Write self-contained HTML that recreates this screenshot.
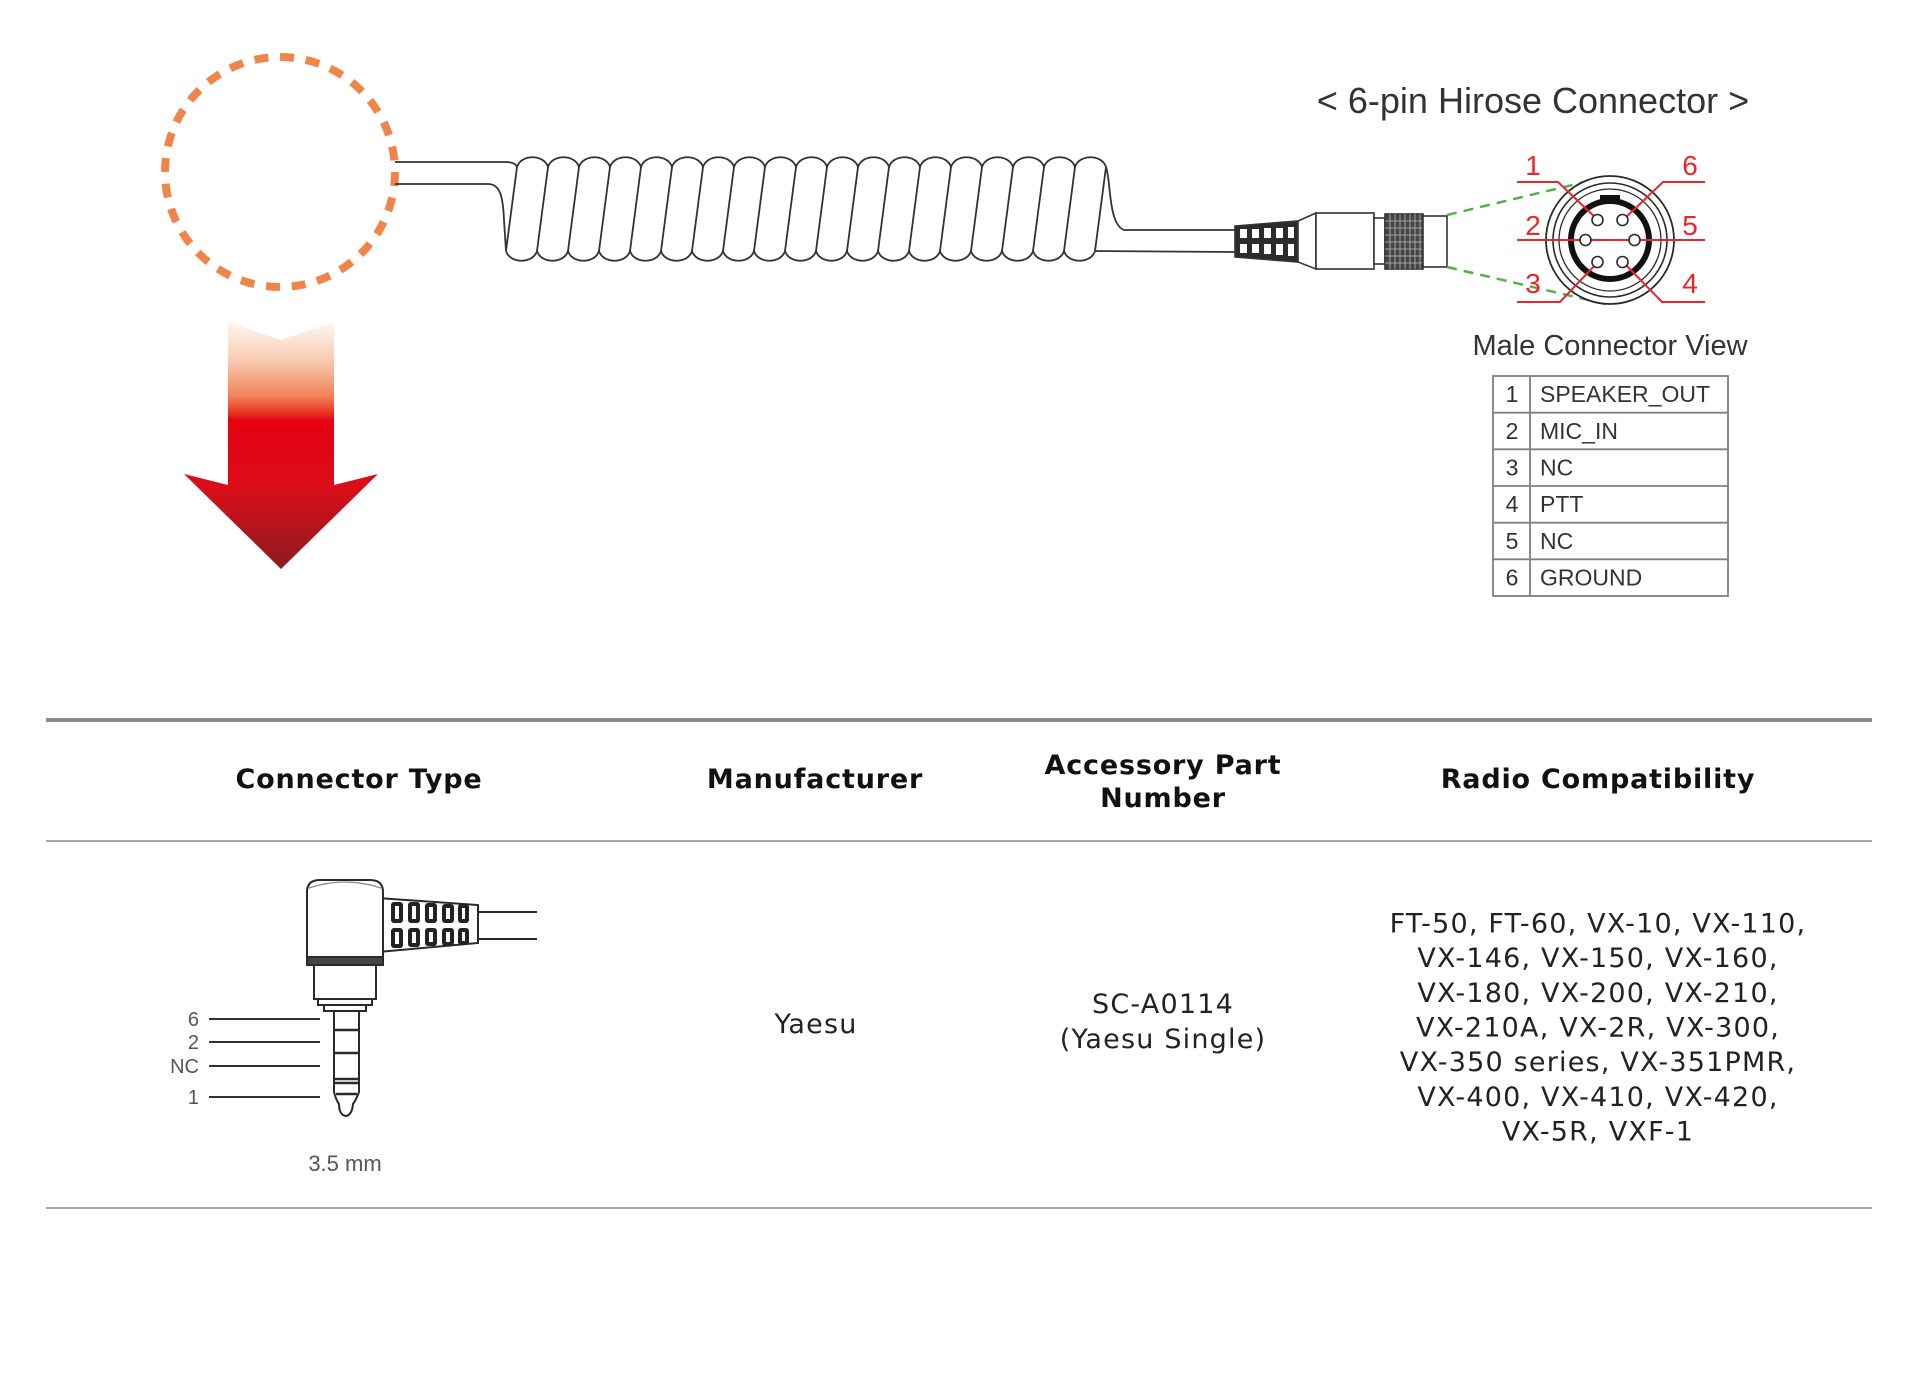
<!DOCTYPE html>
<html>
<head>
<meta charset="utf-8">
<style>
html,body{margin:0;padding:0;background:#fff;}
svg{display:block;}
.hd{font-family:"DejaVu Sans","Liberation Sans",sans-serif;font-weight:bold;font-size:27px;letter-spacing:0.8px;fill:#111;}
.bd{font-family:"DejaVu Sans","Liberation Sans",sans-serif;font-size:27px;letter-spacing:1.2px;fill:#222;}
.ls{font-family:"Liberation Sans",Arial,sans-serif;}
</style>
</head>
<body>
<svg width="1920" height="1392" viewBox="0 0 1920 1392" xmlns="http://www.w3.org/2000/svg">
<defs>
<linearGradient id="ag" gradientUnits="userSpaceOnUse" x1="0" y1="322" x2="0" y2="569">
<stop offset="0" stop-color="#fff6f1"/>
<stop offset="0.15" stop-color="#f8cdb5"/>
<stop offset="0.30" stop-color="#f08358"/>
<stop offset="0.37" stop-color="#e8301f"/>
<stop offset="0.40" stop-color="#e60012"/>
<stop offset="0.66" stop-color="#db0d18"/>
<stop offset="1" stop-color="#8e1b20"/>
</linearGradient>
</defs>
<rect width="1920" height="1392" fill="#fff"/>

<!-- orange dashed circle -->
<circle cx="280" cy="172" r="115" fill="none" stroke="#ef8548" stroke-width="8" stroke-dasharray="14 11.8"/>

<!-- arrow -->
<path d="M228,322 L281,340 L334,322 L334,485 L378,474 L281,569 L184,474 L228,485 Z" fill="url(#ag)"/>

<!-- cable from circle -->
<g fill="none" stroke="#333" stroke-width="1.8">
<path d="M395,162 L505,162 C512,162 516,164 517,167"/>
<path d="M395,184 L488,184 C500,184 503,196 504,220 L506,251"/>
<!-- coil top -->
<path d="M517,167 C521,154 544,154 548,167 C552,154 575,154 579,167 C583,154 606,154 610,167 C614,154 637,154 641,167 C645,154 668,154 672,167 C676,154 699,154 703,167 C707,154 730,154 734,167 C738,154 761,154 765,167 C769,154 792,154 796,167 C800,154 823,154 827,167 C831,154 854,154 858,167 C862,154 885,154 889,167 C893,154 916,154 920,167 C924,154 947,154 951,167 C955,154 978,154 982,167 C986,154 1009,154 1013,167 C1017,154 1040,154 1044,167 C1048,154 1071,154 1075,167 C1079,154 1102,154 1106,167"/>
<!-- coil bottom -->
<path d="M506,251 C510,264 533,264 537,251 C541,264 564,264 568,251 C572,264 595,264 599,251 C603,264 626,264 630,251 C634,264 657,264 661,251 C665,264 688,264 692,251 C696,264 719,264 723,251 C727,264 750,264 754,251 C758,264 781,264 785,251 C789,264 812,264 816,251 C820,264 843,264 847,251 C851,264 874,264 878,251 C882,264 905,264 909,251 C913,264 936,264 940,251 C944,264 967,264 971,251 C975,264 998,264 1002,251 C1006,264 1029,264 1033,251 C1037,264 1060,264 1064,251 C1068,264 1091,264 1095,251"/>
<!-- slants -->
<path d="M517,167 L506,251 M548,167 L537,251 M579,167 L568,251 M610,167 L599,251 M641,167 L630,251 M672,167 L661,251 M703,167 L692,251 M734,167 L723,251 M765,167 L754,251 M796,167 L785,251 M827,167 L816,251 M858,167 L847,251 M889,167 L878,251 M920,167 L909,251 M951,167 L940,251 M982,167 L971,251 M1013,167 L1002,251 M1044,167 L1033,251 M1075,167 L1064,251 M1106,167 L1095,251"/>
<!-- exit lines -->
<path d="M1106,167 C1111,180 1108,224 1124,230 L1236,230"/>
<path d="M1095,251 L1236,252"/>
</g>

<!-- Hirose plug -->
<g stroke="#333" stroke-width="1.6">
<polygon points="1235,226 1298,221 1298,262 1235,257" fill="#2b2b2b"/>
<g fill="#fff" stroke="none">
<rect x="1240" y="229" width="7" height="9"/><rect x="1252" y="229" width="7" height="9"/><rect x="1264" y="228" width="7" height="10"/><rect x="1276" y="228" width="7" height="10"/><rect x="1288" y="227" width="6" height="11"/>
<rect x="1240" y="244" width="7" height="9"/><rect x="1252" y="244" width="7" height="9"/><rect x="1264" y="244" width="7" height="10"/><rect x="1276" y="244" width="7" height="11"/><rect x="1288" y="244" width="6" height="12"/>
</g>
<polygon points="1298,221 1316,213 1316,269 1298,262" fill="#fff"/>
<rect x="1316" y="213" width="58" height="56" fill="#fff"/>
<rect x="1374" y="218" width="11" height="46" fill="#fff"/>
<rect x="1385" y="214" width="38" height="55" fill="#464646"/>
<g stroke="#bbb" stroke-width="0.8">
<path d="M1390,214V269M1395,214V269M1400,214V269M1405,214V269M1410,214V269M1415,214V269M1420,214V269"/>
<path d="M1385,221H1423M1385,228H1423M1385,235H1423M1385,242H1423M1385,249H1423M1385,256H1423M1385,263H1423"/>
</g>
<rect x="1423" y="216" width="24" height="51" fill="#fff"/>
</g>

<!-- green dashed -->
<g stroke="#55b04c" stroke-width="2.5" stroke-dasharray="10 7" fill="none">
<path d="M1447,215 L1610,176"/>
<path d="M1447,267 L1610,305"/>
</g>

<!-- connector face -->
<g fill="none" stroke="#2a2a2a">
<circle cx="1610" cy="240" r="64" stroke-width="1.8" fill="#fff"/>
<circle cx="1610" cy="240" r="57" stroke-width="1.6"/>
<circle cx="1610" cy="240" r="51" stroke-width="1.3"/>
<circle cx="1610" cy="240" r="39" stroke-width="6" stroke="#111"/>
</g>
<rect x="1600" y="195" width="20" height="8" fill="#111"/>
<g stroke="#e8262c" stroke-width="2" fill="none">
<path d="M1517,182 L1558,182 L1598,220"/>
<path d="M1705,182 L1663,182 L1623,220"/>
<path d="M1517,240 L1705,240"/>
<path d="M1517,302 L1560,302 L1598,262"/>
<path d="M1705,302 L1662,302 L1623,262"/>
</g>
<g fill="#fff" stroke="#2a2a2a" stroke-width="1.6">
<circle cx="1597.5" cy="220" r="5.5"/>
<circle cx="1622.5" cy="220" r="5.5"/>
<circle cx="1585.5" cy="240" r="5.5"/>
<circle cx="1634.5" cy="240" r="5.5"/>
<circle cx="1597.5" cy="262" r="5.5"/>
<circle cx="1622.5" cy="262" r="5.5"/>
</g>
<g class="ls" font-size="28" fill="#e8262c" text-anchor="middle">
<text x="1533" y="175">1</text>
<text x="1690" y="175">6</text>
<text x="1533" y="235">2</text>
<text x="1690" y="235">5</text>
<text x="1533" y="293">3</text>
<text x="1690" y="293">4</text>
</g>

<text class="ls" x="1533" y="113" font-size="36" fill="#333" text-anchor="middle">&lt; 6-pin Hirose Connector &gt;</text>
<text class="ls" x="1610" y="355" font-size="29" fill="#333" text-anchor="middle">Male Connector View</text>

<!-- pin table -->
<g stroke="#808080" stroke-width="1.8" fill="none">
<rect x="1493" y="376" width="235" height="220"/>
<path d="M1530,376V596"/>
<path d="M1493,412.7H1728M1493,449.3H1728M1493,486H1728M1493,522.7H1728M1493,559.3H1728"/>
</g>
<g class="ls" font-size="23" fill="#333">
<g text-anchor="middle">
<text x="1512" y="402">1</text>
<text x="1512" y="439">2</text>
<text x="1512" y="475.5">3</text>
<text x="1512" y="512">4</text>
<text x="1512" y="549">5</text>
<text x="1512" y="585.5">6</text>
</g>
<text x="1540" y="402">SPEAKER_OUT</text>
<text x="1540" y="439">MIC_IN</text>
<text x="1540" y="475.5">NC</text>
<text x="1540" y="512">PTT</text>
<text x="1540" y="549">NC</text>
<text x="1540" y="585.5">GROUND</text>
</g>

<!-- table lines -->
<rect x="46" y="718" width="1826" height="4" fill="#8c8c8c"/>
<rect x="46" y="840" width="1826" height="2" fill="#a8a8a8"/>
<rect x="46" y="1207" width="1826" height="2" fill="#a8a8a8"/>

<!-- headers -->
<g class="hd" text-anchor="middle">
<text x="359" y="788">Connector Type</text>
<text x="815" y="788">Manufacturer</text>
<text x="1163" y="774">Accessory Part</text>
<text x="1163" y="807">Number</text>
<text x="1598" y="788">Radio Compatibility</text>
</g>

<!-- body -->
<g class="bd" text-anchor="middle">
<text x="816" y="1033">Yaesu</text>
<text x="1163" y="1013">SC-A0114</text>
<text x="1163" y="1048">(Yaesu Single)</text>
<text x="1598" y="932.5">FT-50, FT-60, VX-10, VX-110,</text>
<text x="1598" y="967.2">VX-146, VX-150, VX-160,</text>
<text x="1598" y="1001.9">VX-180, VX-200, VX-210,</text>
<text x="1598" y="1036.5">VX-210A, VX-2R, VX-300,</text>
<text x="1598" y="1071.2">VX-350 series, VX-351PMR,</text>
<text x="1598" y="1105.9">VX-400, VX-410, VX-420,</text>
<text x="1598" y="1140.6">VX-5R, VXF-1</text>
</g>

<!-- 3.5mm plug -->
<g stroke="#2a2a2a" stroke-width="2" fill="#fff">
<path d="M378,898 L478,905 L478,943 L378,952 Q366,925 378,898 Z"/>
<path d="M478,912 L537,912 M478,939 L537,939" fill="none"/>
<path d="M307,960 L307,892 Q307,880 320,880 L370,880 Q383,880 383,892 L383,960 Z"/>
<path d="M309,888 Q345,876 381,888" fill="none" stroke-width="1.2" stroke="#888"/>
<rect x="307" y="957" width="76" height="8" fill="#444"/>
<rect x="314" y="965" width="62" height="34"/>
<rect x="318" y="999" width="54" height="6"/>
<rect x="324" y="1005" width="42" height="6"/>
<path d="M334,1011 L359,1011 L359,1092 Q356,1100 353,1104 Q352,1115 346,1116 Q339,1115 339,1104 Q336,1100 334,1092 Z"/>
<path d="M334,1030H359M334,1053H359M334,1079H359M334,1083H359M336,1094H357" fill="none" stroke-width="2.5"/>
</g>
<g fill="#222">
<rect x="391" y="902" width="12" height="21" rx="3"/><rect x="408" y="902" width="12" height="21" rx="3"/><rect x="425" y="903" width="12" height="20" rx="3"/><rect x="442" y="904" width="12" height="19" rx="3"/><rect x="458" y="904" width="11" height="19" rx="3"/>
<rect x="391" y="928" width="12" height="20" rx="3"/><rect x="408" y="928" width="12" height="19" rx="3"/><rect x="425" y="928" width="12" height="18" rx="3"/><rect x="442" y="928" width="12" height="18" rx="3"/><rect x="458" y="928" width="11" height="17" rx="3"/>
</g>
<g fill="#fff">
<rect x="395" y="906" width="4" height="13"/><rect x="412" y="906" width="4" height="13"/><rect x="429" y="907" width="4" height="12"/><rect x="446" y="908" width="4" height="11"/><rect x="462" y="908" width="3" height="11"/>
<rect x="395" y="932" width="4" height="12"/><rect x="412" y="932" width="4" height="11"/><rect x="429" y="932" width="4" height="10"/><rect x="446" y="932" width="4" height="10"/><rect x="462" y="932" width="3" height="9"/>
</g>
<g stroke="#333" stroke-width="2">
<path d="M209,1019H320M209,1042H320M209,1066H320M209,1097H320"/>
</g>
<g class="ls" font-size="20" fill="#555" text-anchor="end">
<text x="199" y="1026">6</text>
<text x="199" y="1049">2</text>
<text x="199" y="1073">NC</text>
<text x="199" y="1104">1</text>
</g>
<text class="ls" x="345" y="1171" font-size="22" fill="#555" text-anchor="middle">3.5 mm</text>
</svg>
</body>
</html>
